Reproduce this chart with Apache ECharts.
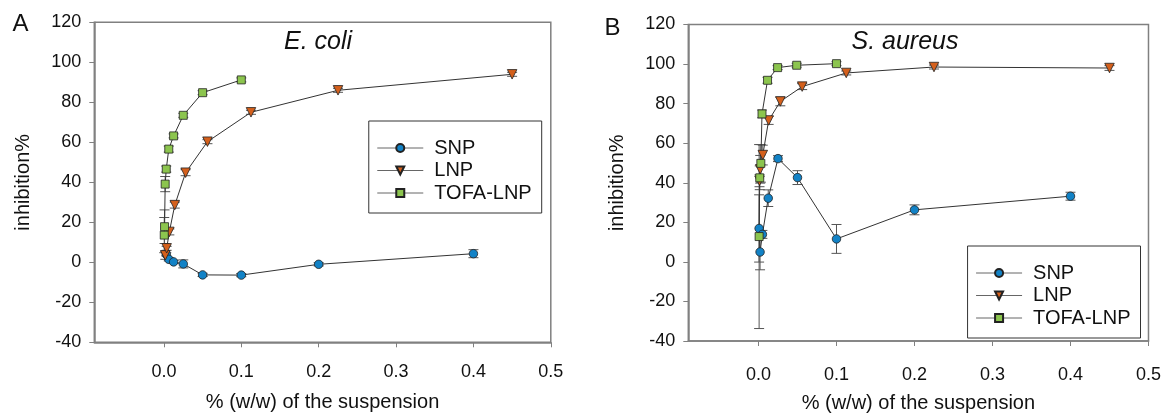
<!DOCTYPE html>
<html>
<head>
<meta charset="utf-8">
<script src="https://cdn.jsdelivr.net/npm/echarts@6/dist/echarts.min.js"></script>
<style>html,body{margin:0;padding:0;background:#fff;}#c{width:1164px;height:418px;}</style>
</head>
<body>
<div id="c"></div>
<script>
// ---- data (x = % w/w, y = inhibition %) ----
const seriesNames = ['SNP', 'LNP', 'TOFA-LNP'];
const xTickValues = [0, 0.1, 0.2, 0.3, 0.4, 0.5];
const yTickStep = 20;

// E. coli
const ecoliSNP  = [[0.003, 4], [0.00625, 1.5], [0.0125, 0.2], [0.025, -0.8], [0.05, -6.3], [0.1, -6.4], [0.2, -1], [0.4, 4.3]];
const ecoliSNPerr = [0.8, 0.8, 0.8, 2, 0.8, 0.8, 0.8, 2];
const ecoliLNP  = [[0.00175, 3.5], [0.0035, 7], [0.007, 15.2], [0.014, 28.6], [0.028, 44.8], [0.05625, 60.3], [0.1125, 75], [0.225, 86], [0.45, 94]];
const ecoliLNPerr = [2, 1, 1.5, 1.5, 1.5, 1, 1, 1, 1];
const ecoliTOFA = [[0.0004, 13.6], [0.0008, 17.8], [0.0016, 39.1], [0.003, 46.6], [0.00625, 56.6], [0.0125, 63.2], [0.025, 73.5], [0.05, 84.8], [0.1, 91.2]];
const ecoliTOFAerr = [8.8, 8.4, 3.8, 1.5, 1.5, 1, 1, 1, 1];

// S. aureus
const saurSNP  = [[0.0008, 16.9], [0.002, 5], [0.005, 13.9], [0.0125, 32.2], [0.025, 52.2], [0.05, 42.6], [0.1, 11.6], [0.2, 26.3], [0.4, 33.2]];
const saurSNPerr = [17, 9, 2, 4.2, 1.5, 3.5, 7.3, 2.5, 2];
const saurLNP  = [[0.0013, 41], [0.0022, 46.8], [0.0055, 54], [0.013, 71.5], [0.028, 81.1], [0.056, 88.6], [0.1125, 95.5], [0.225, 98.5], [0.45, 98]];
const saurLNPerr = [3, 7, 5, 2, 2.2, 1.5, 1, 1, 1.2];
const saurTOFA = [[0.0008, 12.8], [0.0016, 42.5], [0.003, 49.8], [0.0045, 74.8], [0.0116, 91.8], [0.0245, 98.2], [0.049, 99.4], [0.1, 100.2]];
const saurTOFAerr = [46.5, 6, 9.5, 2, 1.5, 1, 1, 1];

// ---- styling ----
const FONT = "'Liberation Sans', Arial, sans-serif";
const AXIS_COLOR = '#808080';
const styles = [
  {symbol: 'circle', symbolSize: 8.5, symbolRotate: 0, color: '#1282c6'},
  {symbol: 'triangle', symbolSize: 9.5, symbolRotate: 180, color: '#d4601c'},
  {symbol: 'rect', symbolSize: 8, symbolRotate: 0, color: '#8cc54e'}
];

function errData(pts, errs) {
  return pts.map((p, i) => [p[0], p[1] - errs[i], p[1] + errs[i]]);
}

function errSeries(idx, data) {
  return {
    type: 'custom', xAxisIndex: idx, yAxisIndex: idx, z: 1, silent: true,
    encode: {x: 0, y: [1, 2]},
    data: data,
    renderItem: function (params, api) {
      const x = api.value(0), lo = api.value(1), hi = api.value(2);
      const a = api.coord([x, hi]), b = api.coord([x, lo]);
      const w = 5;
      const st = {stroke: '#555', lineWidth: 1};
      return {type: 'group', children: [
        {type: 'line', shape: {x1: a[0], y1: a[1], x2: b[0], y2: b[1]}, style: st},
        {type: 'line', shape: {x1: a[0] - w, y1: a[1], x2: a[0] + w, y2: a[1]}, style: st},
        {type: 'line', shape: {x1: b[0] - w, y1: b[1], x2: b[0] + w, y2: b[1]}, style: st}
      ]};
    }
  };
}

function lineSeries(idx, k, data) {
  const s = styles[k];
  return {
    type: 'line', name: seriesNames[k], xAxisIndex: idx, yAxisIndex: idx, z: 3,
    data: data, symbol: s.symbol, symbolSize: s.symbolSize, symbolRotate: s.symbolRotate,
    showAllSymbol: true,
    lineStyle: {color: '#333', width: 1},
    itemStyle: {color: s.color, borderColor: '#222', borderWidth: 0.8},
    emphasis: {disabled: true}
  };
}

function xAxis(idx, margin, nameGap) {
  return {
    type: 'value', gridIndex: idx, min: -0.09, max: 0.5,
    axisLine: {show: true, onZero: false, lineStyle: {color: AXIS_COLOR, width: 1.5}},
    axisTick: {show: true, inside: false, length: 5, customValues: xTickValues, lineStyle: {color: AXIS_COLOR, width: 1}},
    axisLabel: {customValues: xTickValues, formatter: v => v.toFixed(1), fontSize: 18, color: '#111', margin: margin, fontFamily: FONT},
    splitLine: {show: false},
    name: '% (w/w) of the suspension', nameLocation: 'middle', nameGap: nameGap,
    nameTextStyle: {fontSize: 20, color: '#111', fontFamily: FONT}
  };
}

function yAxis(idx) {
  return {
    type: 'value', gridIndex: idx, min: -40, max: 120, interval: yTickStep,
    axisLine: {show: true, onZero: false, lineStyle: {color: AXIS_COLOR, width: 1.5}},
    axisTick: {show: true, inside: false, length: 5, lineStyle: {color: AXIS_COLOR, width: 1}},
    axisLabel: {fontSize: 18, color: '#111', margin: 13, fontFamily: FONT},
    splitLine: {show: false},
    name: 'inhibition%', nameLocation: 'middle', nameGap: 61,
    nameTextStyle: {fontSize: 20, color: '#111', fontFamily: FONT}
  };
}

function legend(pos) {
  return Object.assign({
    orient: 'vertical', itemWidth: 46, itemHeight: 10, itemGap: 2.5,
    padding: [17, 10, 10, 8], borderColor: '#333', borderWidth: 1,
    selectedMode: false, data: seriesNames,
    textStyle: {fontSize: 20, lineHeight: 20, color: '#111', fontFamily: FONT, padding: [0, 0, 0, 6]},
    lineStyle: {color: '#666', width: 1}
  }, pos);
}

const chart = echarts.init(document.getElementById('c'), null, {renderer: 'canvas'});
chart.setOption({
  animation: false,
  backgroundColor: '#fff',
  grid: [
    {left: 94.3, right: 613.2, top: 22.3, bottom: 75.7, show: true, borderColor: AXIS_COLOR, borderWidth: 1.5, containLabel: false},
    {left: 688.3, right: 15.5, top: 24.5, bottom: 72, show: true, borderColor: AXIS_COLOR, borderWidth: 1.5, containLabel: false}
  ],
  xAxis: [xAxis(0, 21, 50), xAxis(1, 25, 52)],
  yAxis: [yAxis(0), yAxis(1)],
  legend: [legend({right: 622.3, top: 121}), legend({right: 23.5, top: 246})],
  graphic: [
    {type: 'text', x: 20.5, y: 24, style: {text: 'A', fontSize: 24, fill: '#111', fontFamily: FONT, align: 'center', verticalAlign: 'middle'}},
    {type: 'text', x: 612.5, y: 28.7, style: {text: 'B', fontSize: 24, fill: '#111', fontFamily: FONT, align: 'center', verticalAlign: 'middle'}},
    {type: 'text', x: 318, y: 42, style: {text: 'E. coli', fontSize: 25, fontStyle: 'italic', fill: '#111', fontFamily: FONT, align: 'center', verticalAlign: 'middle'}},
    {type: 'text', x: 905, y: 42, style: {text: 'S. aureus', fontSize: 25, fontStyle: 'italic', fill: '#111', fontFamily: FONT, align: 'center', verticalAlign: 'middle'}}
  ],
  series: [
    errSeries(0, errData(ecoliSNP, ecoliSNPerr).concat(errData(ecoliLNP, ecoliLNPerr), errData(ecoliTOFA, ecoliTOFAerr))),
    lineSeries(0, 0, ecoliSNP),
    lineSeries(0, 1, ecoliLNP),
    lineSeries(0, 2, ecoliTOFA),
    errSeries(1, errData(saurSNP, saurSNPerr).concat(errData(saurLNP, saurLNPerr), errData(saurTOFA, saurTOFAerr))),
    lineSeries(1, 0, saurSNP),
    lineSeries(1, 1, saurLNP),
    lineSeries(1, 2, saurTOFA)
  ]
});
</script>
</body>
</html>
